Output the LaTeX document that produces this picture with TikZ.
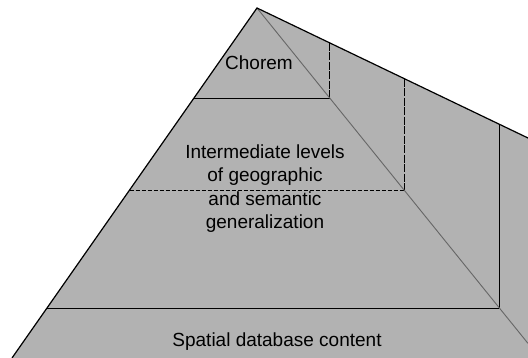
\documentclass[tikz,border=0pt]{standalone}
\usepackage{fontspec}
\setmainfont{Liberation Sans}
\usetikzlibrary{positioning}
\tikzset{
    %Define style for the pyramid faces
    face/.style={
           fill=black!30,
           draw=none},
    %Define style for outer edges
    rim/.style={
           draw=black,
           line width=1.2pt},
    %Define style for the front edge
    ridge/.style={
           draw=black!60,
           line width=0.9pt},
    %Define style for level lines
    level/.style={
           draw=black,
           line width=0.8pt},
    hidden/.style={
           level,
           dash pattern=on 4pt off 2pt},
    %Define style for labels
    caption/.style={
           align=center,
           inner sep=0pt,
           font=\fontsize{19}{23.5}\selectfont}
}
\begin{document}
\begin{tikzpicture}[x=1pt,y=-1pt]
\useasboundingbox (0,0) rectangle (528,358);
 %corners
\coordinate (apex) at (257,8);
\coordinate (bl) at (12,358);
\coordinate (br) at (528,358);
\coordinate (back) at (528,138);
\coordinate (front) at (528,343.4);
\coordinate (c1) at (329.7,98);
\coordinate (c2) at (404,190);
\coordinate (c3) at (499.4,308);
\coordinate (t1) at (329.7,42.9);
\coordinate (t2) at (404,78.6);
\coordinate (t3) at (499.4,124.3);
\coordinate (l1) at (194,98);
\coordinate (l2) at (129.6,190);
\coordinate (l3) at (47,308);
 %faces
\fill[face] (bl) -- (apex) -- (back) -- (br) -- cycle;
 %levels
\draw[level] (l1) -- (c1);
\draw[hidden] (l2) -- (c2);
\draw[level] (l3) -- (c3);
\draw[level, dash pattern=on 8pt off 1.5pt] (t1) -- (c1);
\draw[level, dash pattern=on 8pt off 1.5pt] (t2) -- (c2);
\draw[level] (t3) -- (c3);
 %edges
\draw[ridge] (apex) -- (front);
\draw[rim] (bl) -- (apex) -- (back);
 %labels
\node[caption] (chorem) at (259,63) {Chorem};
\node[caption] (inter) at (265,188.5) {Intermediate levels\\of geographic\\and semantic\\generalization};
\node[caption] (base) at (277,342) {Spatial database content};
\end{tikzpicture}
\end{document}
